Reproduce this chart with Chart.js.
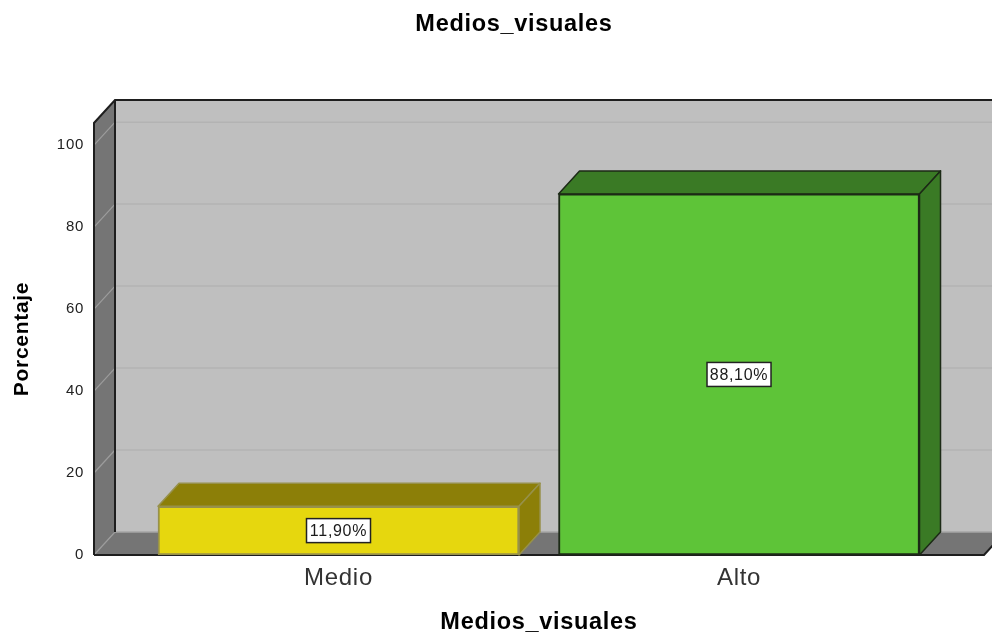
<!DOCTYPE html>
<html>
<head>
<meta charset="utf-8">
<style>html,body{margin:0;padding:0;background:#fff;overflow:hidden}canvas{display:block}</style>
<script src="https://cdn.jsdelivr.net/npm/chart.js@4"></script>
</head>
<body>
<div style="width:992px;height:635px"><canvas id="c" width="992" height="635"></canvas></div>
<script>
const chartTitle = "Medios_visuales";
const xTitle = "Medios_visuales";
const yTitle = "Porcentaje";
const categories = ["Medio", "Alto"];
const categoryIndex = [0, 1];
const values = [11.9, 88.1];
const valueLabels = ["11,90%", "88,10%"];
const yTicks = [0, 20, 40, 60, 80, 100];
const frontColors = ["#e6d70e", "#5ec438"];
const depthColors = ["#8c7f08", "#3a7a25"];
const edgeColors = ["#97914a", "#1c2a16"];

const DX = 21, DY = 23;
const FONT = "'Liberation Sans', Arial, sans-serif";

const threeD = {
  id: "threeD",
  beforeDraw(chart) { chart.ctx.letterSpacing = "0.7px"; },
  afterLayout(chart) {
    if (chart.titleBlock) { chart.titleBlock.left = 36; chart.titleBlock.right = 992; }
  },
  beforeDatasetsDraw(chart) {
    const { ctx, chartArea: a, scales: { y } } = chart;
    const L = a.left, R = a.right, T = a.top, B = a.bottom;
    ctx.save();
    // back wall
    ctx.fillStyle = "#bfbfbf";
    ctx.fillRect(L + DX, T - DY, R - L, B - T);
    // floor
    ctx.fillStyle = "#757575";
    ctx.beginPath();
    ctx.moveTo(L, B); ctx.lineTo(L + DX, B - DY); ctx.lineTo(R + DX, B - DY); ctx.lineTo(R, B);
    ctx.closePath(); ctx.fill();
    ctx.strokeStyle = "#a6a6a6"; ctx.lineWidth = 1.5;
    ctx.beginPath(); ctx.moveTo(L + DX, B - DY); ctx.lineTo(R + DX, B - DY); ctx.stroke();
    // side wall
    ctx.fillStyle = "#757575";
    ctx.beginPath();
    ctx.moveTo(L, B); ctx.lineTo(L + DX, B - DY); ctx.lineTo(L + DX, T - DY); ctx.lineTo(L, T);
    ctx.closePath(); ctx.fill();
    // grid lines
    yTicks.forEach(v => {
      const p = y.getPixelForValue(v);
      if (v > 0) {
        ctx.strokeStyle = "#b3b3b3"; ctx.lineWidth = 1.5;
        ctx.beginPath(); ctx.moveTo(L + DX, p - DY); ctx.lineTo(R + DX, p - DY); ctx.stroke();
      }
      ctx.strokeStyle = "#9c9c9c"; ctx.lineWidth = 1.2;
      ctx.beginPath(); ctx.moveTo(L, p); ctx.lineTo(L + DX, p - DY); ctx.stroke();
    });
    // wall edges
    ctx.strokeStyle = "#1e1e1e"; ctx.lineWidth = 2;
    ctx.beginPath();
    ctx.moveTo(L, B); ctx.lineTo(L, T); ctx.lineTo(L + DX, T - DY); ctx.lineTo(R + DX, T - DY);
    ctx.moveTo(L + DX, T - DY); ctx.lineTo(L + DX, B - DY);
    ctx.moveTo(L, B); ctx.lineTo(R, B); ctx.lineTo(R + DX, B - DY);
    ctx.stroke();
    // faces of each bar
    chart.getDatasetMeta(0).data.forEach((bar, i) => {
      const p = bar.getProps(["x", "y", "base", "width"], true);
      const l = p.x - p.width / 2, r = p.x + p.width / 2, t = p.y, b = p.base;
      ctx.fillStyle = depthColors[i];
      ctx.strokeStyle = edgeColors[i];
      ctx.lineWidth = 1.5;
      ctx.lineJoin = "round";
      ctx.beginPath();
      ctx.moveTo(l, t); ctx.lineTo(l + DX, t - DY); ctx.lineTo(r + DX, t - DY); ctx.lineTo(r, t);
      ctx.closePath(); ctx.fill(); ctx.stroke();
      ctx.beginPath();
      ctx.moveTo(r, t); ctx.lineTo(r + DX, t - DY); ctx.lineTo(r + DX, b - DY); ctx.lineTo(r, b);
      ctx.closePath(); ctx.fill(); ctx.stroke();
    });
    ctx.restore();
  },
  afterDatasetsDraw(chart) {
    const { ctx } = chart;
    ctx.save();
    ctx.font = "16px " + FONT;
    ctx.textAlign = "center";
    ctx.textBaseline = "middle";
    chart.getDatasetMeta(0).data.forEach((bar, i) => {
      const p = bar.getProps(["x", "y", "base"], true);
      const cy = (p.y + p.base) / 2;
      const w = 64, h = 24;
      ctx.fillStyle = "#fff";
      ctx.fillRect(p.x - w / 2, cy - h / 2, w, h);
      ctx.strokeStyle = "#222"; ctx.lineWidth = 1.5;
      ctx.strokeRect(p.x - w / 2, cy - h / 2, w, h);
      ctx.fillStyle = "#1a1a1a";
      ctx.fillText(valueLabels[i], p.x, cy + 1);
    });
    ctx.restore();
  }
};

new Chart(document.getElementById("c"), {
  type: "bar",
  data: {
    datasets: [{
      label: yTitle,
      data: categoryIndex.map((c, i) => ({ x: c, y: values[i] })),
      backgroundColor: frontColors,
      borderColor: edgeColors,
      borderWidth: 2,
      borderSkipped: false,
      barThickness: 361
    }]
  },
  options: {
    responsive: false,
    animation: false,
    layout: { padding: { left: 0, right: 8, top: 0, bottom: 0 } },
    plugins: {
      legend: { display: false },
      tooltip: { enabled: false },
      title: {
        display: true,
        text: chartTitle,
        color: "#000",
        font: { family: FONT, size: 23.5, weight: "bold" },
        padding: { top: 10, bottom: 84.8 }
      }
    },
    scales: {
      x: {
        type: "linear",
        min: -0.6105,
        max: 1.6117,
        offset: false,
        grid: { display: false, drawTicks: false },
        border: { display: false },
        afterBuildTicks(s) { s.ticks = categoryIndex.map(v => ({ value: v })); },
        afterFit(s) { s.height = 80; },
        ticks: {
          autoSkip: false,
          maxRotation: 0,
          padding: 9,
          color: "#333",
          font: { family: FONT, size: 24 },
          callback: v => categories[v]
        },
        title: {
          display: true,
          text: xTitle,
          color: "#000",
          font: { family: FONT, size: 23.5, weight: "bold" },
          padding: { top: 14, bottom: -2 }
        }
      },
      y: {
        min: 0,
        max: 105.4,
        grid: { display: false, drawTicks: false },
        border: { display: false },
        afterBuildTicks(s) { s.ticks = yTicks.map(v => ({ value: v })); },
        afterFit(s) { s.width = 94; },
        ticks: {
          padding: 10,
          color: "#222",
          font: { family: FONT, size: 15 }
        },
        title: {
          display: true,
          text: yTitle,
          color: "#000",
          font: { family: FONT, size: 21, weight: "bold" },
          padding: { top: 10, bottom: 0 }
        }
      }
    }
  },
  plugins: [threeD]
});
</script>
</body>
</html>
